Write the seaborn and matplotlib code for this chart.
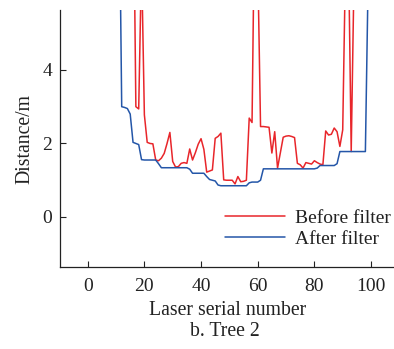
import numpy as np
import pandas as pd
import matplotlib
matplotlib.use("Agg")
import matplotlib.pyplot as plt
import seaborn as sns

# Laser serial numbers
laser = list(range(1, 101))

# Distance before filter (values above the plot top are out-of-range returns)
before_filter = (
    [10.0] * 15 +                                   # 1-15
    [10.0, 3.0, 2.94, 7.0, 2.78, 2.03, 2.0, 1.99,    # 16-23
     1.55, 1.53, 1.6, 1.73, 2.0, 2.3, 1.51, 1.36,    # 24-31
     1.37, 1.46, 1.48, 1.46, 1.85, 1.55, 1.75, 1.98, # 32-39
     2.13, 1.84, 1.22, 1.25, 1.28, 2.14, 2.19, 2.28, # 40-47
     1.01, 1.0, 1.0, 1.0, 0.9, 1.1, 0.96, 0.97,      # 48-55
     1.0, 2.69, 2.57, 9.0, 7.0, 2.46, 2.46, 2.45,    # 56-63
     2.44, 1.74, 2.32, 1.33, 1.75, 2.17, 2.2, 2.21,  # 64-71
     2.19, 2.16, 1.46, 1.42, 1.33, 1.48, 1.46, 1.44, # 72-79
     1.53, 1.48, 1.44, 1.42, 2.34, 2.23, 2.25, 2.42, # 80-87
     2.32, 1.92, 2.37, 7.0, 7.5, 1.78, 6.6, 10.0,    # 88-95
     10.0, 10.0, 10.0, 10.0, 10.0]                   # 96-100
)

# Distance after filter
after_filter = (
    [10.0] * 11 +                                   # 1-11
    [3.0, 2.98, 2.95, 2.8, 2.03, 2.0, 1.97, 1.56,    # 12-19
     1.55, 1.55, 1.55, 1.55, 1.55, 1.45,             # 20-25
     1.34, 1.34, 1.34, 1.34, 1.34, 1.34, 1.34, 1.34, 1.34, 1.34,  # 26-35
     1.3, 1.19, 1.19, 1.19, 1.19, 1.19,              # 36-41
     1.1, 1.02, 1.0, 0.98, 0.87,                     # 42-46
     0.85, 0.85, 0.85, 0.85, 0.85, 0.85, 0.85, 0.85, 0.85, 0.85,  # 47-56
     0.93, 0.95, 0.95, 0.95, 1.0,                    # 57-61
     1.31, 1.31, 1.31, 1.31, 1.31, 1.31, 1.31, 1.31, 1.31, 1.31,  # 62-71
     1.31, 1.31, 1.31, 1.31, 1.31, 1.31, 1.31, 1.31, 1.31,        # 72-80
     1.33, 1.4, 1.4, 1.4, 1.4, 1.4, 1.4, 1.45,       # 81-88
     1.78, 1.78, 1.78, 1.78, 1.78, 1.78, 1.78, 1.78, 1.78, 1.78,  # 89-98
     6.6, 10.0]                                      # 99-100
)

series_names = ["Before filter", "After filter"]
colors = ["#e8262b", "#2456a8"]

df = pd.DataFrame({
    "Laser": laser * 2,
    "Distance": before_filter + after_filter,
    "Series": [series_names[0]] * len(laser) + [series_names[1]] * len(laser),
})

sns.set_theme(style="ticks")
plt.rcParams["font.family"] = ["Liberation Serif", "DejaVu Serif"]
plt.rcParams["mathtext.fontset"] = "stix"

W, H = 394, 349
fig = plt.figure(figsize=(W / 100, H / 100), dpi=100)
left, right, top, bottom = 60.5, 394, 10, 267
ax = fig.add_axes([left / W, 1 - bottom / H, (right - left) / W, (bottom - top) / H])

sns.lineplot(data=df, x="Laser", y="Distance", hue="Series",
             palette=dict(zip(series_names, colors)), linewidth=1.1, ax=ax,
             estimator=None, sort=False)

ax.set_xlim(-9.6, 108.1)
ax.set_ylim(-1.36, 5.63)
ax.set_xticks([0, 20, 40, 60, 80, 100])
ax.set_yticks([0, 2, 4])
ax.tick_params(direction="in", length=4, width=0.8, labelsize=14, colors="#222222")
ax.tick_params(axis="x", pad=8)
ax.tick_params(axis="y", pad=6)
for s in ["top", "right"]:
    ax.spines[s].set_visible(False)
for s in ["left", "bottom"]:
    ax.spines[s].set_linewidth(0.9)
    ax.spines[s].set_color("#222222")

ax.set_xlabel("Laser serial number", fontsize=14.2, color="#222222", labelpad=4)
ax.set_ylabel("Distance/m", fontsize=14.2, color="#222222", labelpad=6)

leg = ax.legend(loc="lower right", bbox_to_anchor=(1.025, 0.03), frameon=False,
                fontsize=14, handlelength=3.1, handletextpad=0.5,
                labelspacing=0.15, borderaxespad=0.2)
for t in leg.get_texts():
    t.set_color("#222222")

fig.text(225 / W, 1 - 332 / H, "b. Tree 2", ha="center",
         va="center", fontsize=14.2, color="#222222")

fig.savefig("out.png", dpi=100)
